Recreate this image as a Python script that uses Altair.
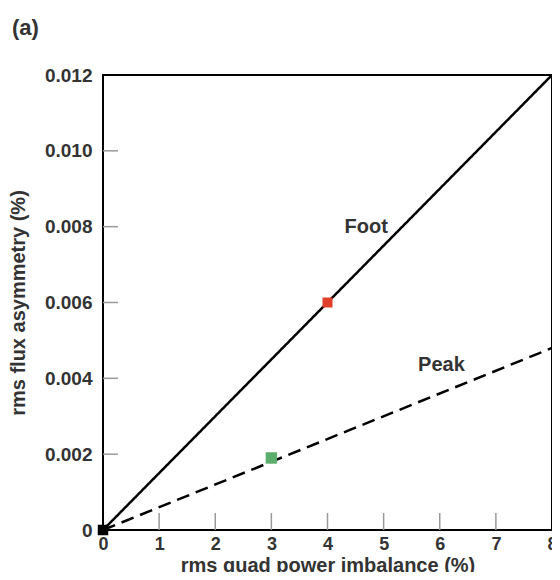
import altair as alt
import pandas as pd

# Lines
line_names = ["Foot", "Foot", "Peak", "Peak"]
line_x = [0, 8, 0, 8]
line_y = [0.0, 0.012, 0.0, 0.0048]

# Points
pt_x = [4, 3, 0]
pt_y = [0.006, 0.0019, 0.0]
pt_color = ["#e0402a", "#5aad6a", "#000000"]
pt_size = [100, 130, 110]

# Labels
lab_text = ["Foot", "Peak"]
lab_x = [4.69, 6.03]
lab_y = [0.0080, 0.00435]

# Tick values
x_ticks = [1, 2, 3, 4, 5, 6, 7]
y_ticks = [0.002, 0.004, 0.006, 0.008, 0.010]
x_labels = [0, 1, 2, 3, 4, 5, 6, 7, 8]
y_labels = [0, 0.002, 0.004, 0.006, 0.008, 0.010, 0.012]

FONT = "Liberation Sans"
W, H = 449, 455

lines_df = pd.DataFrame({"series": line_names, "x": line_x, "y": line_y})
pts_df = pd.DataFrame({"x": pt_x, "y": pt_y, "c": pt_color, "s": pt_size})
lab_df = pd.DataFrame({"t": lab_text, "x": lab_x, "y": lab_y})
xt_df = pd.DataFrame({"x": x_ticks})
yt_df = pd.DataFrame({"y": y_ticks})

xscale = alt.Scale(domain=[0, 8], nice=False, zero=False)
yscale = alt.Scale(domain=[0, 0.012], nice=False, zero=False)

xaxis = alt.Axis(
    values=x_labels, ticks=False, grid=False, domain=False,
    labelFont=FONT, labelFontSize=18, labelFontWeight="bold", labelColor="#333",
    labelPadding=5, labelFlush=False, format="d",
    title="rms quad power imbalance (%)", titleFont=FONT, titleFontSize=20,
    titleFontWeight="bold", titleColor="#333", titleX=W / 2, titleY=41,
    titleBaseline="alphabetic", titleAlign="center",
)
yaxis = alt.Axis(
    values=y_labels, ticks=False, grid=False, domain=False,
    labelFont=FONT, labelFontSize=19, labelFontWeight="bold", labelColor="#333",
    labelPadding=11, labelFlush=False,
    labelExpr="datum.value == 0 ? '0' : format(datum.value, '.3f')",
    title="rms flux asymmetry (%)", titleFont=FONT, titleFontSize=20,
    titleFontWeight="bold", titleColor="#333", titleX=-79, titleY=H / 2,
    titleAngle=-90, titleBaseline="alphabetic", titleAlign="center",
)

base_x = alt.X("x:Q", scale=xscale, axis=xaxis)
base_y = alt.Y("y:Q", scale=yscale, axis=yaxis)

xticks = alt.Chart(xt_df).mark_rule(color="#999", strokeWidth=1.5).encode(
    x=alt.X("x:Q", scale=xscale), y=alt.value(H - 17), y2=alt.value(H)
)
yticks = alt.Chart(yt_df).mark_rule(color="#999", strokeWidth=1.5).encode(
    y=alt.Y("y:Q", scale=yscale), x=alt.value(0), x2=alt.value(15)
)

lines = alt.Chart(lines_df).mark_line(color="black", strokeWidth=2.5).encode(
    x=base_x, y=base_y,
    detail="series:N",
    strokeDash=alt.StrokeDash(
        "series:N",
        scale=alt.Scale(domain=["Foot", "Peak"], range=[[1, 0], [13, 7]]),
        legend=None,
    ),
)

points = alt.Chart(pts_df).mark_square(opacity=1).encode(
    x=alt.X("x:Q", scale=xscale),
    y=alt.Y("y:Q", scale=yscale),
    color=alt.Color("c:N", scale=None),
    size=alt.Size("s:Q", scale=None),
)

labels = alt.Chart(lab_df).mark_text(
    font=FONT, fontSize=20, fontWeight="bold", color="#333",
    align="center", baseline="middle"
).encode(x=alt.X("x:Q", scale=xscale), y=alt.Y("y:Q", scale=yscale), text="t:N")

chart = (
    alt.layer(xticks, yticks, lines, points, labels)
    .properties(
        width=W, height=H,
        title=alt.TitleParams(
            "(a)", anchor="start", frame="group", font=FONT, fontSize=22,
            fontWeight="bold", color="#333", dx=-91, offset=26,
        ),
        autosize=alt.AutoSizeParams(type="none"),
        padding={"left": 95, "top": 67, "right": 0, "bottom": 42},
    )
    .configure_view(stroke="black", strokeWidth=2)
)

chart.save("out.html", embed_options={"renderer": "svg", "actions": False})
